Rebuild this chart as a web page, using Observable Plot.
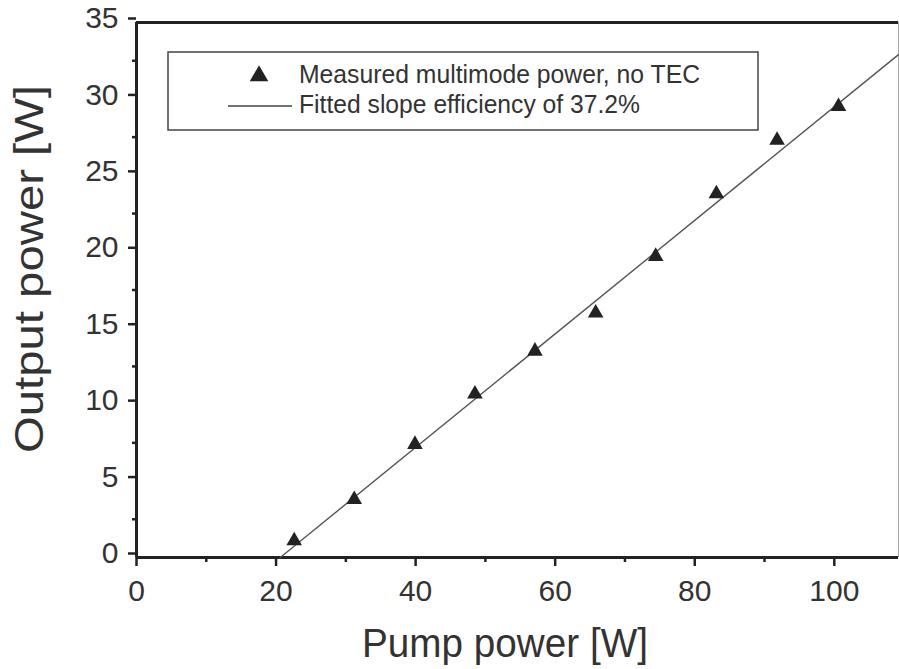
<!DOCTYPE html>
<html>
<head>
<meta charset="utf-8">
<script src="https://cdn.jsdelivr.net/npm/d3@7"></script>
<script src="https://cdn.jsdelivr.net/npm/@observablehq/plot@0.6"></script>
<style>
  html, body { margin: 0; padding: 0; background: #fff; }
  #chart { position: relative; width: 899px; height: 669px; }
</style>
</head>
<body>
<div id="chart"></div>
<script>
const pumpPower   = [22.6, 31.2, 39.9, 48.5, 57.1, 65.8, 74.4, 83.1, 91.8, 100.6];
const outputPower = [1.1, 3.8, 7.4, 10.7, 13.5, 16.0, 19.7, 23.8, 27.3, 29.5];

// Fitted line (slope efficiency 37.2%) endpoints
const fitPump   = [20.6, 109.2];
const fitOutput = [0, 32.9];

// Axes
const xDomain = [0, 109.2];
const yDomain = [0, 35];
const xTicks = [0, 20, 40, 60, 80, 100];
const xMinor = [10, 30, 50, 70, 90];
const yTicks = [0, 5, 10, 15, 20, 25, 30, 35];
const yMinor = [2.5, 7.5, 12.5, 17.5, 22.5, 27.5, 32.5];

const xTitle = "Pump power [W]";
const yTitle = "Output power [W]";
const legendMeasured = "Measured multimode power, no TEC";
const legendFit = "Fitted slope efficiency of 37.2%";

const measured = pumpPower.map((p, i) => ({pump: p, out: outputPower[i]}));
const fit = fitPump.map((p, i) => ({pump: p, out: fitOutput[i]}));

const ink = "#222";
const textInk = "#333";

const svg = Plot.plot({
  width: 899,
  height: 669,
  marginLeft: 136,
  marginRight: 1,
  marginTop: 22,
  marginBottom: 112,
  style: {fontFamily: "'Liberation Sans', Arial, sans-serif", background: "white", color: textInk},
  x: {domain: xDomain, axis: null},
  y: {domain: yDomain, axis: null},
  marks: [
    // minor ticks
    Plot.axisX({ticks: xMinor, tickSize: 5, tickFormat: () => "", label: null, strokeWidth: 2.5, stroke: ink}),
    Plot.axisY({ticks: yMinor, tickSize: 4, tickFormat: () => "", label: null, strokeWidth: 2.5, stroke: ink}),
    // major ticks + labels
    Plot.axisX({ticks: xTicks, tickSize: 9, tickPadding: 13, fontSize: 30, label: null, strokeWidth: 2.5, stroke: ink, fill: textInk, tickFormat: d => String(d)}),
    Plot.axisY({ticks: yTicks, tickSize: 8, tickPadding: 10, fontSize: 30, label: null, strokeWidth: 2.5, stroke: ink, fill: textInk, dy: -4, tickFormat: d => String(d)}),
    // frame
    Plot.ruleX([xDomain[1]], {stroke: "#aaa", strokeWidth: 1}),
    Plot.ruleY([yDomain[1]], {stroke: ink, strokeWidth: 3}),
    Plot.ruleX([0], {stroke: ink, strokeWidth: 3}),
    Plot.ruleY([0], {stroke: ink, strokeWidth: 3}),
    // fit line
    Plot.line(fit, {x: "pump", y: "out", stroke: "#555", strokeWidth: 1.4}),
    // measured points
    Plot.dot(measured, {x: "pump", y: "out", symbol: "triangle", r: 5.8, fill: ink, stroke: "none"})
  ]
});

const s = d3.select(svg);

// Axis titles
s.append("text")
  .attr("x", 505).attr("y", 657)
  .attr("text-anchor", "middle")
  .attr("font-size", 41)
  .attr("fill", textInk)
  .attr("textLength", 286).attr("lengthAdjust", "spacingAndGlyphs")
  .text(xTitle);

s.append("text")
  .attr("transform", "translate(43,269) rotate(-90)")
  .attr("text-anchor", "middle")
  .attr("font-size", 41)
  .attr("fill", textInk)
  .attr("textLength", 368).attr("lengthAdjust", "spacingAndGlyphs")
  .text(yTitle);

// Legend
const lg = s.append("g").attr("text-anchor", "start");
lg.append("rect")
  .attr("x", 168).attr("y", 52).attr("width", 590).attr("height", 78)
  .attr("fill", "white").attr("stroke", "#444").attr("stroke-width", 1.5);
lg.append("path")
  .attr("transform", "translate(259,76)")
  .attr("d", d3.symbol(d3.symbolTriangle, 150)())
  .attr("fill", ink);
lg.append("line")
  .attr("x1", 228).attr("x2", 292).attr("y1", 106).attr("y2", 106)
  .attr("stroke", "#444").attr("stroke-width", 1.4);
lg.append("text")
  .attr("x", 299).attr("y", 83)
  .attr("text-anchor", "start")
  .attr("font-size", 25).attr("fill", textInk)
  .attr("textLength", 401).attr("lengthAdjust", "spacingAndGlyphs")
  .text(legendMeasured);
lg.append("text")
  .attr("x", 299).attr("y", 113)
  .attr("text-anchor", "start")
  .attr("font-size", 25).attr("fill", textInk)
  .attr("textLength", 341).attr("lengthAdjust", "spacingAndGlyphs")
  .text(legendFit);

document.getElementById("chart").append(svg);
</script>
</body>
</html>
